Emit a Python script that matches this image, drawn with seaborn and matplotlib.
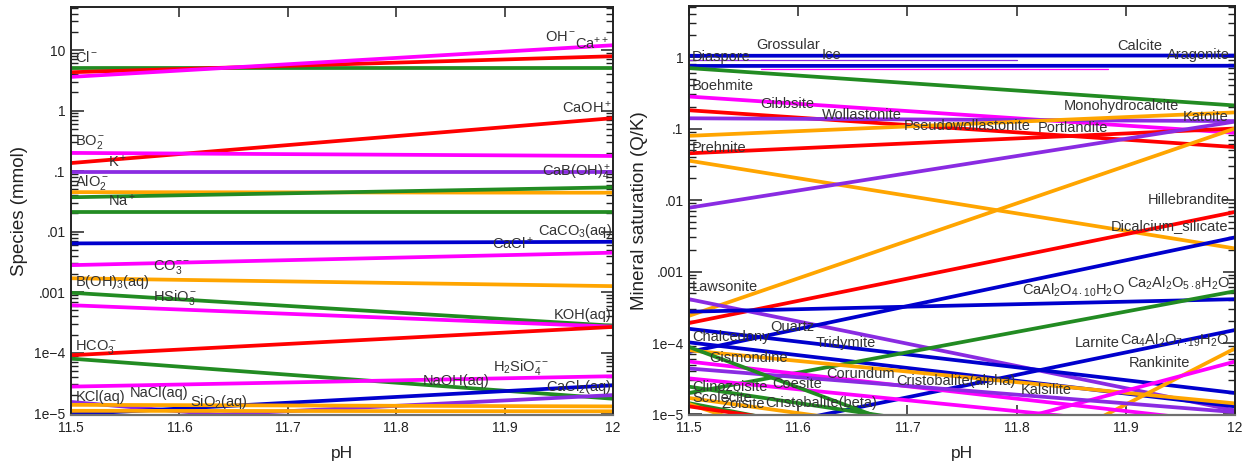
import matplotlib
matplotlib.use('Agg')
import pandas as pd
import seaborn as sns
import matplotlib.pyplot as plt
from matplotlib.ticker import FixedLocator, FixedFormatter, LogLocator, NullFormatter

GREEN = '#228B22'
MAGENTA = '#FF00FF'
RED = '#FF0000'
PURPLE = '#8A2BE2'
ORANGE = '#FFA500'
BLUE = '#0000CD'

ph_range = [11.5, 12.0]

# left panel: species (mmol) at pH 11.5 and at pH 12
species_colors = [GREEN, RED, MAGENTA, RED, MAGENTA, PURPLE, ORANGE, GREEN, GREEN,
                  BLUE, MAGENTA, ORANGE, GREEN, MAGENTA, RED, GREEN, MAGENTA,
                  PURPLE, PURPLE, BLUE, ORANGE, ORANGE]
species_start = [5.0, 4.3, 3.6, 0.136, 0.20, 0.097, 0.045, 0.037, 0.021,
                 0.0064, 0.0028, 0.0017, 0.00098, 0.00061, 9.1e-5, 8.0e-5, 2.76e-5,
                 1.54e-5, 7.2e-6, 9.6e-6, 1.38e-5, 1.1e-5]
species_end = [5.0, 7.9, 12.0, 0.75, 0.178, 0.097, 0.044, 0.054, 0.021,
               0.0068, 0.0045, 0.00126, 0.00028, 0.00027, 2.67e-4, 1.74e-5, 4.1e-5,
               2.6e-6, 2.0e-5, 2.9e-5, 1.3e-5, 1.08e-5]

species_labels = ['Cl$^-$', 'OH$^-$', 'Ca$^{++}$', 'CaOH$^+$', 'BO$_2^-$', 'K$^+$',
                  'AlO$_2^-$', 'Na$^+$', 'CaB(OH)$_4^+$', 'CaCO$_3$(aq)', 'CaCl$^+$',
                  'CO$_3^{--}$', 'B(OH)$_3$(aq)', 'HSiO$_3^-$', 'KOH(aq)', 'HCO$_3^-$',
                  'H$_2$SiO$_4^{--}$', 'NaOH(aq)', 'CaCl$_2$(aq)', 'KCl(aq)', 'NaCl(aq)',
                  'SiO$_2$(aq)']
species_label_ph = [11.5037, 11.937, 11.965, 11.999, 11.504, 11.534, 11.504, 11.534,
                    11.999, 11.999, 11.888, 11.5757, 11.504, 11.5757, 11.999, 11.504,
                    11.889, 11.8247, 11.999, 11.504, 11.5544, 11.6098]
species_label_val = [7.66, 16.4, 13.0, 1.14, 0.30, 0.146, 0.066, 0.0332, 0.0927,
                     0.0102, 0.00646, 0.00259, 0.00146, 0.000826, 0.000417, 0.000123,
                     5.75e-5, 3.38e-5, 2.69e-5, 1.84e-5, 2.14e-5, 1.52e-5]
species_right = {'CaOH$^+$', 'CaB(OH)$_4^+$', 'CaCO$_3$(aq)', 'KOH(aq)', 'CaCl$_2$(aq)'}

# right panel: mineral saturation (Q/K) at pH 11.5 and at pH 12
mineral_colors = [BLUE, BLUE, GREEN, MAGENTA, RED, PURPLE, ORANGE, RED, ORANGE, PURPLE,
                  ORANGE, RED, PURPLE, BLUE, BLUE, BLUE, BLUE, BLUE, GREEN, ORANGE,
                  ORANGE, MAGENTA, MAGENTA, MAGENTA, PURPLE, GREEN, GREEN, GREEN,
                  ORANGE, RED, ORANGE]
mineral_start = [1.04, 0.75, 0.70, 0.28, 0.18, 0.139, 0.079, 0.045, 0.0355, 0.0078,
                 2.4e-4, 1.9e-4, 4.1e-4, 2.74e-4, 7.5e-5, 1.58e-4, 1.02e-4, 4.1e-6, 2.0e-5, 7.9e-5,
                 1e-8, 5.1e-7, 5.5e-5, 3.2e-5, 4.4e-5, 8.8e-5, 2.45e-5, 1.44e-5,
                 1.4e-5, 1.3e-5, 1.7e-5]
mineral_end = [1.05, 0.755, 0.21, 0.087, 0.055, 0.127, 0.168, 0.10, 0.0021, 0.125,
               0.10, 0.0068, 1.14e-5, 4.1e-4, 3.0e-3, 2.0e-5, 1.3e-5, 1.52e-4, 5.3e-4, 1.43e-5,
               8.4e-5, 5.5e-5, 7.5e-6, 5.5e-6, 1.08e-5, 1.3e-7, 1.75e-6, 5e-7,
               4e-8, 1e-6, 1.5e-6]

# faint partial traces in the right panel
thin_colors = [PURPLE, MAGENTA]
thin_ph_start = [11.5, 11.566]
thin_ph_end = [11.8, 11.884]
thin_val = [0.91, 0.67]

mineral_labels = ['Diaspore', 'Grossular', 'Ice', 'Calcite', 'Aragonite', 'Boehmite',
                  'Gibbsite', 'Wollastonite', 'Pseudowollastonite', 'Portlandite',
                  'Monohydrocalcite', 'Katoite', 'Prehnite', 'Hillebrandite',
                  'Dicalcium_silicate', 'Lawsonite', r'CaAl$_2$O$_{4\cdot10}$H$_2$O',
                  r'Ca$_2$Al$_2$O$_{5\cdot8}$H$_2$O', 'Quartz', 'Chalcedony', 'Tridymite',
                  'Larnite', r'Ca$_4$Al$_2$O$_{7\cdot19}$H$_2$O', 'Gismondine', 'Rankinite',
                  'Corundum', 'Cristobalite(alpha)', 'Kalsilite', 'Coesite', 'Clinozoisite',
                  'Scolecite', 'Zoisite', 'Cristobalite(beta)']
mineral_label_ph = [11.5027, 11.5614, 11.6218, 11.892, 11.9954, 11.5027, 11.565, 11.6218,
                    11.6969, 11.8196, 11.8434, 11.9524, 11.5027, 11.9203, 11.8864, 11.5027,
                    11.805, 11.9011, 11.5742, 11.5027, 11.6163, 11.8535, 11.8947, 11.5183,
                    11.9029, 11.6255, 11.6896, 11.804, 11.576, 11.5027, 11.5027, 11.5300,
                    11.5696]
mineral_label_val = [1.0, 1.47, 1.07, 1.44, 1.07, 0.393, 0.22, 0.154, 0.108, 0.1017,
                     0.206, 0.146, 0.054, 0.01, 0.00433, 6.13e-4, 5.5e-4, 6.9e-4, 1.69e-4,
                     1.23e-4, 1e-4, 1e-4, 1.1e-4, 6.17e-5, 5.3e-5, 3.68e-5, 2.97e-5, 2.2e-5,
                     2.67e-5, 2.4e-5, 1.72e-5, 1.40e-5, 1.44e-5]
mineral_right = {'Aragonite'}


def long_frame(starts, ends, ph0=None, ph1=None):
    rows = []
    for i, (a, b) in enumerate(zip(starts, ends)):
        x0 = ph_range[0] if ph0 is None else ph0[i]
        x1 = ph_range[1] if ph1 is None else ph1[i]
        rows.append({'line': 'L%d' % i, 'pH': x0, 'value': a})
        rows.append({'line': 'L%d' % i, 'pH': x1, 'value': b})
    return pd.DataFrame(rows)


sns.set_theme(style='white')
plt.rcParams['font.family'] = ['Liberation Sans', 'DejaVu Sans']
plt.rcParams.update({
    'mathtext.fontset': 'custom',
    'mathtext.rm': 'Liberation Sans',
    'mathtext.it': 'Liberation Sans:italic',
    'mathtext.bf': 'Liberation Sans:bold',
    'mathtext.sf': 'Liberation Sans',
    'mathtext.default': 'regular',
})

fig = plt.figure(figsize=(12.43, 4.66), dpi=100)
ax1 = fig.add_axes([71 / 1243, 51 / 466, 542 / 1243, 408 / 466])
ax2 = fig.add_axes([689 / 1243, 51 / 466, 546 / 1243, 409 / 466])

LW = 2.7
TXT = '#333333'

# left panel
df = long_frame(species_start, species_end)
pal = {'L%d' % i: c for i, c in enumerate(species_colors)}
sns.lineplot(data=df, x='pH', y='value', hue='line', palette=pal, linewidth=LW,
             legend=False, estimator=None, sort=False, ax=ax1)
for lab, x, y in zip(species_labels, species_label_ph, species_label_val):
    ax1.text(x, y, lab, ha='right' if lab in species_right else 'left', va='center',
             fontsize=10.5, color=TXT, zorder=5)

# right panel
df2 = long_frame(mineral_start, mineral_end)
pal2 = {'L%d' % i: c for i, c in enumerate(mineral_colors)}
sns.lineplot(data=df2, x='pH', y='value', hue='line', palette=pal2, linewidth=LW,
             legend=False, estimator=None, sort=False, ax=ax2)
df3 = long_frame(thin_val, thin_val, thin_ph_start, thin_ph_end)
pal3 = {'L%d' % i: c for i, c in enumerate(thin_colors)}
sns.lineplot(data=df3, x='pH', y='value', hue='line', palette=pal3, linewidth=0.9,
             legend=False, estimator=None, sort=False, ax=ax2)
for lab, x, y in zip(mineral_labels, mineral_label_ph, mineral_label_val):
    ax2.text(x, y, lab, ha='right' if lab in mineral_right else 'left', va='center',
             fontsize=10.5, color=TXT, zorder=5)

xt = [11.5, 11.6, 11.7, 11.8, 11.9, 12.0]
xtl = ['11.5', '11.6', '11.7', '11.8', '11.9', '12']

setups = [
    (ax1, (10 ** -5.028, 51.4), [1e-5, 1e-4, 1e-3, 1e-2, 0.1, 1, 10],
     ['1e\u22125', '1e\u22124', '.001', '.01', '.1', '1', '10'], 'Species (mmol)', -0.0793),
    (ax2, (10 ** -5.007, 5.17), [1e-5, 1e-4, 1e-3, 1e-2, 0.1, 1],
     ['1e\u22125', '1e\u22124', '.001', '.01', '.1', '1'], 'Mineral saturation (Q/K)', -0.0751),
]
for ax, ylim, yt, ytl, ylab, lx in setups:
    ax.set_yscale('log')
    ax.set_xlim(11.5, 12.0)
    ax.set_ylim(*ylim)
    ax.yaxis.set_major_locator(FixedLocator(yt))
    ax.yaxis.set_major_formatter(FixedFormatter(ytl))
    ax.yaxis.set_minor_locator(LogLocator(base=10, subs=range(2, 10), numticks=20))
    ax.yaxis.set_minor_formatter(NullFormatter())
    ax.xaxis.set_major_locator(FixedLocator(xt))
    ax.xaxis.set_major_formatter(FixedFormatter(xtl))
    ax.tick_params(axis='both', which='both', direction='in', top=True, right=True,
                   left=True, bottom=True, labelsize=10, colors='#222222', pad=4)
    ax.tick_params(which='major', length=9, width=1.1)
    ax.tick_params(which='minor', length=5, width=1)
    ax.tick_params(axis='x', which='major', length=7)
    for s in ['left', 'top', 'right']:
        ax.spines[s].set_color('#222222')
        ax.spines[s].set_linewidth(1.4)
    ax.spines['bottom'].set_color('#707070')
    ax.spines['bottom'].set_linewidth(1.6)
    ax.set_ylabel(ylab, fontsize=13.5, color='#222222')
    ax.set_xlabel('pH', fontsize=12.5, color='#222222')
    ax.yaxis.set_label_coords(lx, 0.5)
    ax.xaxis.set_label_coords(0.5, -0.075)
    ax.grid(False)

fig.savefig('out.png', dpi=100)
